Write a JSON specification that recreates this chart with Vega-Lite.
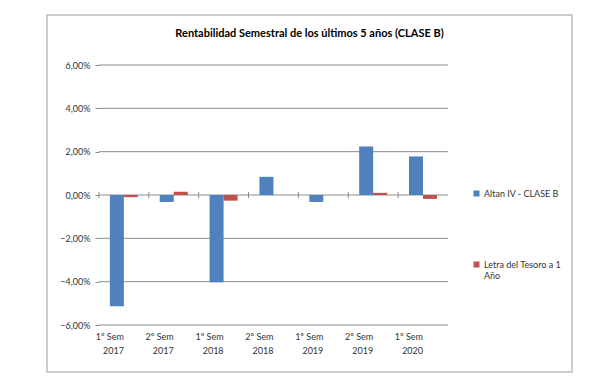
{
  "$schema": "https://vega.github.io/schema/vega-lite/v6.json",
  "width": 525,
  "height": 357,
  "autosize": {"type": "none"},
  "padding": {"left": 47, "top": 15, "right": 41, "bottom": 11},
  "background": "white",
  "config": {
    "font": "Lato",
    "view": {"stroke": "#BDBDBD", "strokeWidth": 1.5}
  },
  "title": {
    "text": "Rentabilidad Semestral de los últimos 5 años (CLASE B)",
    "font": "Lato",
    "fontSize": 11,
    "fontWeight": "bold",
    "color": "#000000",
    "anchor": "middle",
    "frame": "group",
    "offset": -24
  },
  "datasets": {
    "returns": [
      {"periodo": "1º Sem 2017", "serie": "Altan IV - CLASE B", "valor": -5.14},
      {"periodo": "1º Sem 2017", "serie": "Letra del Tesoro a 1 Año", "valor": -0.10},
      {"periodo": "2º Sem 2017", "serie": "Altan IV - CLASE B", "valor": -0.32},
      {"periodo": "2º Sem 2017", "serie": "Letra del Tesoro a 1 Año", "valor": 0.15},
      {"periodo": "1º Sem 2018", "serie": "Altan IV - CLASE B", "valor": -4.03},
      {"periodo": "1º Sem 2018", "serie": "Letra del Tesoro a 1 Año", "valor": -0.26},
      {"periodo": "2º Sem 2018", "serie": "Altan IV - CLASE B", "valor": 0.84},
      {"periodo": "2º Sem 2018", "serie": "Letra del Tesoro a 1 Año", "valor": 0.0},
      {"periodo": "1º Sem 2019", "serie": "Altan IV - CLASE B", "valor": -0.32},
      {"periodo": "1º Sem 2019", "serie": "Letra del Tesoro a 1 Año", "valor": 0.0},
      {"periodo": "2º Sem 2019", "serie": "Altan IV - CLASE B", "valor": 2.24},
      {"periodo": "2º Sem 2019", "serie": "Letra del Tesoro a 1 Año", "valor": 0.10},
      {"periodo": "1º Sem 2020", "serie": "Altan IV - CLASE B", "valor": 1.78},
      {"periodo": "1º Sem 2020", "serie": "Letra del Tesoro a 1 Año", "valor": -0.18}
    ],
    "grid": [
      {"v": -6}, {"v": -4}, {"v": -2}, {"v": 0}, {"v": 2}, {"v": 4}, {"v": 6}
    ]
  },
  "layer": [
    {
      "data": {"name": "grid"},
      "mark": {"type": "rule", "color": "#8C8C8C", "strokeWidth": 1},
      "encoding": {
        "y": {
          "field": "v",
          "type": "quantitative",
          "title": null,
          "scale": {"domain": [-8.169, 8.308], "nice": false, "zero": false},
          "axis": {
            "orient": "left",
            "offset": -52,
            "values": [-6, -4, -2, 0, 2, 4, 6],
            "domain": false,
            "grid": false,
            "ticks": true,
            "tickSize": 4,
            "tickColor": "#8C8C8C",
            "labelFont": "Lato",
            "labelFontSize": 9,
            "labelColor": "#333333",
            "labelPadding": 5,
            "labelExpr": "replace(format(datum.value, '.2f'), '.', ',') + '%'"
          }
        },
        "x": {"datum": "1º Sem 2017", "type": "nominal", "bandPosition": 0},
        "x2": {"datum": "1º Sem 2020", "bandPosition": 1}
      }
    },
    {
      "mark": {"type": "rule", "color": "#8C8C8C", "strokeWidth": 1},
      "encoding": {
        "x": {"datum": "1º Sem 2017", "type": "nominal", "bandPosition": 0},
        "y": {"datum": -6, "type": "quantitative"},
        "y2": {"datum": 6}
      }
    },
    {
      "data": {"name": "returns"},
      "transform": [{"filter": "datum.serie === 'Altan IV - CLASE B'"}],
      "mark": {"type": "rule", "color": "#8C8C8C", "strokeWidth": 1},
      "encoding": {
        "x": {"field": "periodo", "type": "nominal", "bandPosition": 0},
        "y": {"datum": -0.14, "type": "quantitative"},
        "y2": {"datum": 0.14}
      }
    },
    {
      "mark": {"type": "rule", "color": "#8C8C8C", "strokeWidth": 1},
      "encoding": {
        "x": {"datum": "1º Sem 2020", "type": "nominal", "bandPosition": 1},
        "y": {"datum": -0.14, "type": "quantitative"},
        "y2": {"datum": 0.14}
      }
    },
    {
      "data": {"name": "returns"},
      "mark": {"type": "bar"},
      "encoding": {
        "x": {
          "field": "periodo",
          "type": "nominal",
          "title": null,
          "scale": {
            "domain": ["1º Sem 2017", "2º Sem 2017", "1º Sem 2018", "2º Sem 2018", "1º Sem 2019", "2º Sem 2019", "1º Sem 2020", " ", "  "],
            "paddingInner": 0,
            "paddingOuter": 0.765,
            "align": 0.681
          },
          "axis": {
            "orient": "bottom",
            "offset": -47,
            "domain": false,
            "ticks": false,
            "grid": false,
            "labelAngle": 0,
            "labelFont": "Lato",
            "labelFontSize": 9,
            "labelColor": "#333333",
            "labelPadding": 11,
            "labelLineHeight": 14,
            "labelExpr": "[substring(datum.label, 0, 6), substring(datum.label, 7)]"
          }
        },
        "xOffset": {
          "field": "serie",
          "type": "nominal",
          "scale": {"domain": ["Altan IV - CLASE B", "Letra del Tesoro a 1 Año"], "paddingInner": 0, "paddingOuter": 0.78}
        },
        "y": {"field": "valor", "type": "quantitative", "title": null, "stack": null},
        "y2": {"datum": 0},
        "color": {
          "field": "serie",
          "type": "nominal",
          "scale": {"domain": ["Altan IV - CLASE B", "Letra del Tesoro a 1 Año"], "range": ["#4F81BD", "#C0504D"]},
          "legend": {
            "title": null,
            "orient": "none",
            "legendX": 425,
            "legendY": 174,
            "padding": 0,
            "symbolType": "square",
            "symbolSize": 36,
            "symbolStrokeWidth": 0,
            "labelFont": "Lato",
            "labelFontSize": 9,
            "labelColor": "#333333",
            "labelOffset": 3,
            "rowPadding": 61,
            "labelLimit": 120,
            "labelExpr": "datum.label === 'Letra del Tesoro a 1 Año' ? ['Letra del Tesoro a 1', 'Año'] : datum.label"
          }
        }
      }
    }
  ]
}
